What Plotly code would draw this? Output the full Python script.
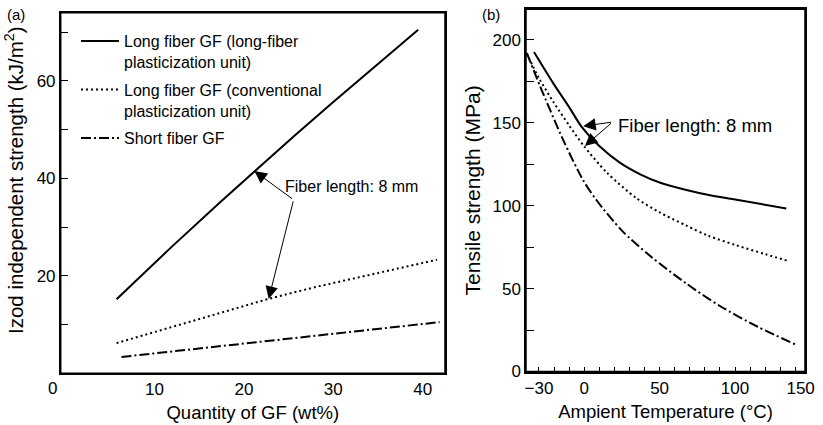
import plotly.graph_objects as go

# ---------- Panel (a): Izod strength vs quantity of GF ----------
a_long_x = [5.75, 12, 17.4, 21.2, 25.75, 30, 35, 39.5]
a_long_y = [15.2, 26.1, 35.2, 41.5, 48.9, 55.7, 63.5, 70.5]
a_conv_x = [5.75, 10, 14.4, 20.7, 22.8, 28, 35.6, 41.6]
a_conv_y = [6.2, 8.5, 10.9, 14.2, 15.3, 17.7, 20.9, 23.3]
a_short_x = [6.3, 14, 21.8, 30, 41.9]
a_short_y = [3.35, 4.9, 6.5, 8.1, 10.5]
a_xticks = [10, 20, 30, 40]
a_yticks = [20, 40, 60]
a_yminor = [10, 30, 50, 70]

# ---------- Panel (b): Tensile strength vs temperature ----------
b_long_x = [-33.3, -20.5, -10, -1.7, 10, 23.6, 37.5, 50, 67.8, 85, 103, 134]
b_long_y = [192.7, 173.8, 159.5, 147.6, 136, 126, 118.8, 114, 109.5, 106, 103.3, 98.3]
b_conv_x = [-38.2, -30, -20.5, -10, -0.7, 15, 34.7, 50, 67.8, 82, 101, 120, 136]
b_conv_y = [192, 177, 162.7, 148.5, 136.6, 120, 104.5, 96, 88, 82, 76.1, 70.8, 66.5]
b_short_x = [-38, -29.3, -13.9, -0.7, 8.2, 25, 44, 67.8, 90, 115, 141.5]
b_short_y = [192, 172.2, 139.6, 115.4, 103.3, 85, 69.5, 53, 39.5, 27, 15.7]
b_xtick_vals = [-30, 0, 50, 100, 143.5]
b_xtick_text = ["\u221230", "0", "50", "100", "150"]
b_xminor = list(range(-30, 141, 10))
b_yticks = [0, 50, 100, 150, 200]
b_yminor = [25, 75, 125, 175]

names = ["Long fiber GF (long-fiber<br>plasticization unit)",
         "Long fiber GF (conventional<br>plasticization unit)",
         "Short fiber GF"]

FONT = "Liberation Sans, Arial, Helvetica, sans-serif"
W, H = 823, 425
solid = dict(color="black", width=2)
dotted = dict(color="black", width=2, dash="2px,3px")
dashdot = dict(color="black", width=2, dash="10px,3px,2px,3px")

fig = go.Figure()
for i, (xs, ys, ln, nm) in enumerate([(a_long_x, a_long_y, solid, names[0]),
                                      (a_conv_x, a_conv_y, dotted, names[1]),
                                      (a_short_x, a_short_y, dashdot, names[2])]):
    fig.add_trace(go.Scatter(x=xs, y=ys, mode="lines",
                             line=dict(**ln, shape="linear"),
                             name=nm, legendgroup="g%d" % i,
                             xaxis="x", yaxis="y", showlegend=True))
for i, (xs, ys, ln, nm) in enumerate([(b_long_x, b_long_y, solid, names[0]),
                                      (b_conv_x, b_conv_y, dotted, names[1]),
                                      (b_short_x, b_short_y, dashdot, names[2])]):
    fig.add_trace(go.Scatter(x=xs, y=ys, mode="lines",
                             line=dict(**ln, shape="spline", smoothing=0.8),
                             name=nm, legendgroup="g%d" % i,
                             xaxis="x2", yaxis="y2", showlegend=False))

def px_x(p):
    return p / W

def px_y(p):
    return 1 - p / H

axis_common = dict(showline=True, linecolor="black", linewidth=1.5, mirror=True,
                   showgrid=False, zeroline=False, automargin=False,
                   tickfont=dict(size=17, color="black", family=FONT))

fig.update_layout(
    width=W, height=H,
    margin=dict(l=0, r=0, t=0, b=0),
    paper_bgcolor="white", plot_bgcolor="white",
    font=dict(family=FONT, color="black"),
    xaxis=dict(axis_common, domain=[px_x(60.7), px_x(445)], range=[-0.5, 42.5],
               tickmode="array", tickvals=a_xticks, ticks="",
               title=dict(text="Quantity of GF (wt%)", font=dict(size=18.5), standoff=8),
               anchor="y"),
    yaxis=dict(axis_common, domain=[px_y(373.3), px_y(12.7)], range=[0, 74],
               tickmode="array", tickvals=a_yticks, ticks="inside", ticklen=8,
               tickwidth=1.2, tickcolor="black",
               minor=dict(tickvals=a_yminor, ticks="inside", ticklen=8, tickwidth=1.2,
                          tickcolor="black", showgrid=False),
               anchor="x"),
    xaxis2=dict(axis_common, domain=[px_x(526), px_x(805)], range=[-38.6, 146.4],
                tickmode="array", tickvals=b_xtick_vals, ticktext=b_xtick_text, ticks="",
                minor=dict(tickvals=b_xminor, ticks="inside", ticklen=5, tickwidth=1.2,
                           tickcolor="black", showgrid=False),
                title=dict(text="Ampient Temperature (\u00b0C)", font=dict(size=18.5), standoff=8),
                anchor="y2"),
    yaxis2=dict(axis_common, domain=[px_y(371.5), px_y(9.3)], range=[0, 218.5],
                tickmode="array", tickvals=b_yticks, ticks="inside", ticklen=8,
                tickwidth=1.2, tickcolor="black",
                minor=dict(tickvals=b_yminor, ticks="inside", ticklen=8, tickwidth=1.2,
                           tickcolor="black", showgrid=False),
                title=dict(text="Tensile strength (MPa)", font=dict(size=21), standoff=6),
                anchor="x2"),
    legend=dict(x=px_x(76), y=px_y(24), xanchor="left", yanchor="top",
                bgcolor="rgba(0,0,0,0)", font=dict(size=16, family=FONT),
                valign="top", itemwidth=38, tracegroupgap=4),
)

# frames around both plot areas
for xr, yr in [("x domain", "y domain"), ("x2 domain", "y2 domain")]:
    fig.add_shape(type="rect", xref=xr, yref=yr, x0=0, x1=1, y0=0, y1=1,
                  line=dict(color="black", width=1.5), layer="above")

arrow_style = dict(showarrow=True, arrowhead=2, arrowsize=2.5, arrowwidth=1,
                   arrowcolor="black", text="")
annotations = [
    # panel labels
    dict(text="(a)", x=px_x(16), y=px_y(15), xref="paper", yref="paper",
         xanchor="center", yanchor="middle", showarrow=False, font=dict(size=15)),
    dict(text="(b)", x=px_x(491), y=px_y(15), xref="paper", yref="paper",
         xanchor="center", yanchor="middle", showarrow=False, font=dict(size=15)),
    # y title of panel (a)
    dict(text="Izod independent strength (kJ/m<sup>2</sup>)", x=px_x(14), y=px_y(180),
         xref="paper", yref="paper", xanchor="center", yanchor="middle",
         textangle=-90, showarrow=False, font=dict(size=20.5)),
    # origin label for panel (a)
    dict(text="0", x=px_x(52), y=px_y(388), xref="paper", yref="paper",
         xanchor="center", yanchor="middle", showarrow=False, font=dict(size=17)),
    # panel (a) callout
    dict(text="Fiber length: 8 mm", x=24.4, y=38.3, xref="x", yref="y",
         xanchor="left", yanchor="middle", showarrow=False, font=dict(size=16)),
    dict(x=21.17, y=41.5, ax=25.56, ay=35.6, xref="x", yref="y",
         axref="x", ayref="y", **arrow_style),
    dict(x=22.77, y=15.26, ax=25.56, ay=35.6, xref="x", yref="y",
         axref="x", ayref="y", **arrow_style),
    # panel (b) callout
    dict(text="Fiber length: 8 mm", x=21.2, y=148.6, xref="x2", yref="y2",
         xanchor="left", yanchor="middle", showarrow=False, font=dict(size=18.5)),
    dict(x=-0.66, y=148, ax=18.8, ay=150.5, xref="x2", yref="y2",
         axref="x2", ayref="y2", **arrow_style),
    dict(x=0.46, y=136.1, ax=18.8, ay=150.5, xref="x2", yref="y2",
         axref="x2", ayref="y2", **arrow_style),
]
fig.update_layout(annotations=annotations)

fig.write_html("out.html", config={"displayModeBar": False},
               post_script="document.body.style.margin='0';")
